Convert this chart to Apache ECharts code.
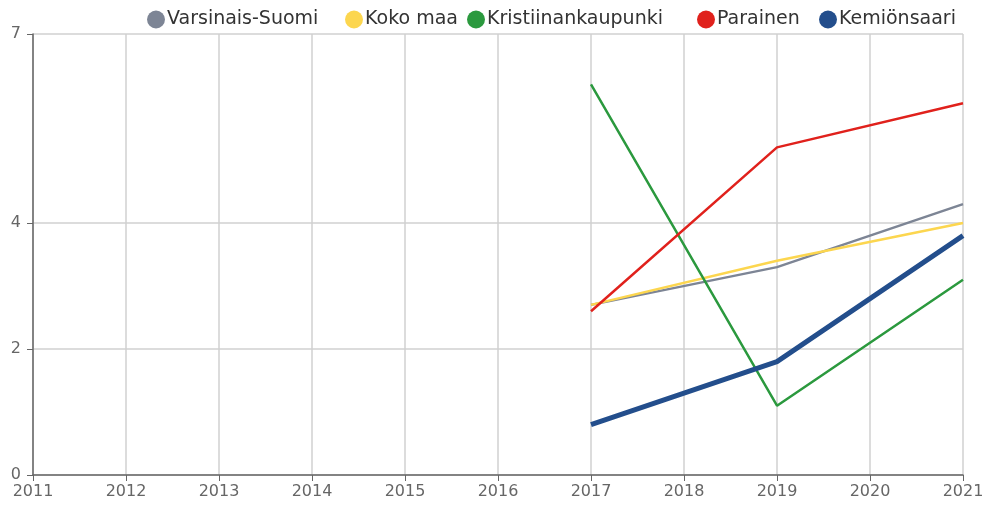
<!DOCTYPE html>
<html><head><meta charset="utf-8">
<script src="https://cdn.jsdelivr.net/npm/echarts@6/dist/echarts.min.js"></script>
<style>html,body{margin:0;padding:0;background:#fff}#c{width:987px;height:507px}</style>
</head><body><div id="c"></div>
<script>
const years = [2017, 2019, 2021];
const varsinaisSuomi = [2.7, 3.3, 4.3];
const kokoMaa = [2.7, 3.4, 4.0];
const kristiinankaupunki = [6.2, 1.1, 3.1];
const parainen = [2.6, 5.2, 5.9];
const kemionsaari = [0.8, 1.8, 3.8];
const yTicks = [0, 2, 4, 7];

const FONT = '"DejaVu Sans", sans-serif';
const seriesDefs = [
  {name: 'Varsinais-Suomi', data: varsinaisSuomi, color: '#7d8595', width: 2.5},
  {name: 'Koko maa', data: kokoMaa, color: '#fcd64f', width: 2.5},
  {name: 'Kristiinankaupunki', data: kristiinankaupunki, color: '#2b993e', width: 2.5},
  {name: 'Parainen', data: parainen, color: '#e0211c', width: 2.5},
  {name: 'Kemiönsaari', data: kemionsaari, color: '#234e8c', width: 5}
];
const legendLeft = [147, 345, 467, 697, 819];

const chart = echarts.init(document.getElementById('c'), null, {renderer: 'canvas'});
chart.setOption({
  animation: false,
  textStyle: {fontFamily: FONT},
  legend: seriesDefs.map((s, i) => ({
    top: 10, left: legendLeft[i], icon: 'circle', itemWidth: 18, itemHeight: 18, padding: 0,
    textStyle: {fontFamily: FONT, fontSize: 19, color: '#333', padding: [0, 0, 0, -3]},
    data: [s.name]
  })),
  grid: {left: 33, right: 24, top: 34, bottom: 32, containLabel: false},
  xAxis: {
    type: 'value', min: 2011, max: 2021, interval: 1,
    axisLine: {lineStyle: {color: '#666', width: 1.5}},
    axisTick: {show: true, length: 6, lineStyle: {color: '#666'}},
    axisLabel: {formatter: v => String(v), color: '#666', fontFamily: FONT, fontSize: 16, margin: 9},
    splitLine: {show: true, lineStyle: {color: '#d0d0d0', width: 1.5}}
  },
  yAxis: {
    type: 'value', min: 0, max: 7,
    axisLine: {show: true, lineStyle: {color: '#666', width: 1.5}},
    axisTick: {show: true, length: 6, lineStyle: {color: '#666'}, customValues: yTicks},
    axisLabel: {color: '#666', fontFamily: FONT, fontSize: 16, margin: 12, customValues: yTicks},
    splitLine: {show: true, lineStyle: {color: '#d0d0d0', width: 1.5}}
  },
  series: seriesDefs.map(s => ({
    name: s.name, type: 'line', showSymbol: false, symbol: 'circle',
    color: s.color,
    lineStyle: {color: s.color, width: s.width},
    data: years.map((y, i) => [y, s.data[i]])
  }))
});
</script></body></html>
